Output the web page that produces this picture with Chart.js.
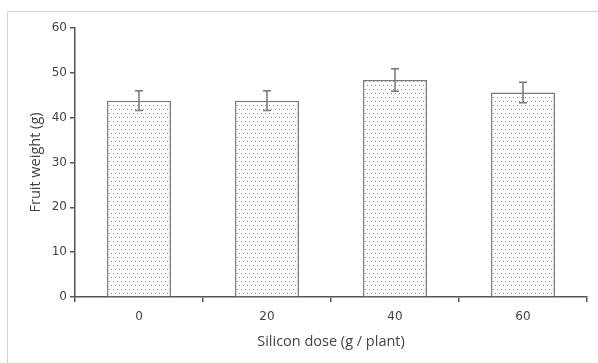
<!DOCTYPE html>
<html>
<head>
<meta charset="utf-8">
<style>
  html, body { margin: 0; padding: 0; background: #fff; }
  #wrap { width: 598px; height: 363px; position: relative; }
</style>
<script src="https://cdn.jsdelivr.net/npm/chart.js@4/dist/chart.umd.min.js"></script>
</head>
<body>
<div id="wrap"><canvas id="chart" width="598" height="363"></canvas></div>
<script>
// data
const categories = ['0', '20', '40', '60'];
const fruitWeight = [43.8, 43.8, 48.4, 45.6];
const fruitError = [2.2, 2.2, 2.5, 2.3];
const yMin = 0, yMax = 60, yStep = 10;

// dotted fill like the original
function dotPattern() {
    const c = document.createElement('canvas');
    c.width = 4;
    c.height = 8;
    const g = c.getContext('2d');
    g.fillStyle = '#fff';
    g.fillRect(0, 0, 4, 8);
    g.fillStyle = '#8a8a8a';
    g.fillRect(1, 1, 1, 1);
    g.fillRect(3, 5, 1, 1);
    return g.createPattern(c, 'repeat');
}

// thin grey frame at top/left of the picture
const framePlugin = {
    id: 'frame',
    beforeDraw(chart) {
        const ctx = chart.ctx;
        ctx.save();
        ctx.strokeStyle = '#d4d4d4';
        ctx.lineWidth = 1;
        ctx.beginPath();
        ctx.moveTo(7.5, 363);
        ctx.lineTo(7.5, 11.5);
        ctx.lineTo(598, 11.5);
        ctx.stroke();
        ctx.restore();
    }
};

// error bars drawn from the data arrays
const errorBarPlugin = {
    id: 'errorBars',
    afterDatasetsDraw(chart) {
        const ctx = chart.ctx;
        const meta = chart.getDatasetMeta(0);
        const y = chart.scales.y;
        ctx.save();
        ctx.strokeStyle = '#777';
        ctx.lineWidth = 1.5;
        meta.data.forEach((bar, i) => {
            const x = bar.x;
            const top = y.getPixelForValue(fruitWeight[i] + fruitError[i]);
            const bot = y.getPixelForValue(fruitWeight[i] - fruitError[i]);
            ctx.beginPath();
            ctx.moveTo(x, top);
            ctx.lineTo(x, bot);
            ctx.moveTo(x - 4, top);
            ctx.lineTo(x + 4, top);
            ctx.moveTo(x - 4, bot);
            ctx.lineTo(x + 4, bot);
            ctx.stroke();
        });
        ctx.restore();
    }
};

const ctx = document.getElementById('chart').getContext('2d');
new Chart(ctx, {
    type: 'bar',
    data: {
        labels: categories,
        datasets: [{
            label: 'Fruit weight',
            data: fruitWeight,
            backgroundColor: dotPattern(),
            borderColor: '#7a7a7a',
            borderWidth: 1.5,
            categoryPercentage: 1,
            barPercentage: 0.5
        }]
    },
    options: {
        responsive: false,
        animation: false,
        layout: { padding: { left: 0, right: 11, top: 28, bottom: 0 } },
        plugins: {
            legend: { display: false },
            tooltip: { enabled: false }
        },
        scales: {
            x: {
                afterFit(scale) { scale.height = 66; },
                grid: { display: true, drawOnChartArea: false, tickLength: 5, color: '#555', lineWidth: 1.5 },
                border: { display: true, color: '#555', width: 1.5 },
                ticks: { color: '#444', padding: 8, font: { family: 'DejaVu Sans', size: 12 } },
                title: {
                    display: true,
                    text: 'Silicon dose (g / plant)',
                    color: '#444',
                    padding: { top: 4, bottom: 12 },
                    font: { family: 'Open Sans', size: 14.5 }
                }
            },
            y: {
                min: yMin,
                max: yMax,
                afterFit(scale) { scale.width = 75; },
                grid: { display: true, drawOnChartArea: false, tickLength: 5, color: '#555', lineWidth: 1.5 },
                border: { display: true, color: '#555', width: 1.5 },
                ticks: { stepSize: yStep, color: '#444', padding: 3, font: { family: 'DejaVu Sans', size: 12 } },
                title: {
                    display: true,
                    text: 'Fruit weight (g)',
                    color: '#444',
                    padding: { top: 27, bottom: 0 },
                    font: { family: 'Open Sans', size: 14.5 }
                }
            }
        }
    },
    plugins: [framePlugin, errorBarPlugin]
});
</script>
</body>
</html>
